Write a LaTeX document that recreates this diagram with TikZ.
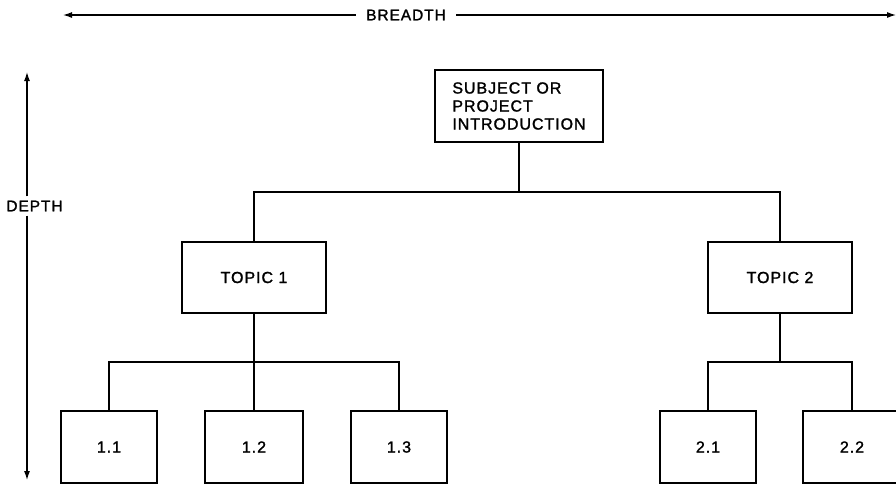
\documentclass[tikz,border=0pt]{standalone}
\usepackage{fontspec}
\setmainfont{Liberation Sans}[LetterSpace=6, FakeBold=1.5]
\usetikzlibrary{arrows.meta}
\begin{document}
\begin{tikzpicture}[x=1pt,y=1pt,
  box/.style={draw, line width=1.8pt, inner sep=0pt, minimum height=72pt, font=\fontsize{16}{18}\selectfont},
  conn/.style={line width=1.8pt},
  dimarrow/.style={line width=1.2pt, -{Latex[length=9pt,width=6pt]}},
  dimlabel/.style={font=\fontsize{15.5}{18}\selectfont}]
\useasboundingbox (0,0) rectangle (896,-485);
% dimension arrows
\node[dimlabel, inner xsep=10pt] (br) at (406,-15) {BREADTH};
\coordinate (bl) at (63,-15);
\coordinate (bright) at (896,-15);
\draw[dimarrow] (br.west) -- (bl);
\draw[dimarrow] (br.east) -- (bright);
\node[dimlabel, inner ysep=4pt, inner xsep=0pt] (dp) at (34.5,-206) {DEPTH};
\coordinate (dtop) at (27,-72);
\coordinate (dbot) at (27,-480);
\draw[dimarrow] (dtop |- dp.north) -- (dtop);
\draw[dimarrow] (dbot |- dp.south) -- (dbot);
% boxes
\node[box, minimum width=168pt, align=left] (top) at (519,-106) {SUBJECT OR\\PROJECT\\INTRODUCTION};
\node[box, minimum width=144pt, minimum height=71pt] (t1) at (254,-277.5) {TOPIC 1};
\node[box, minimum width=144pt, minimum height=71pt] (t2) at (780,-277.5) {TOPIC 2};
\node[box, minimum width=96pt] (c11) at (109,-447) {1.1};
\node[box, minimum width=98pt] (c12) at (254,-447) {1.2};
\node[box, minimum width=96pt] (c13) at (399,-447) {1.3};
\node[box, minimum width=96pt] (c21) at (708,-447) {2.1};
\node[box, minimum width=98pt] (c22) at (852,-447) {2.2};
% connectors
\coordinate (j0) at (519,-192);
\coordinate (j1) at (254,-362);
\coordinate (j2) at (780,-362);
\draw[conn] (top.south) -- (j0);
\draw[conn] (t1.north) |- (j0) -| (t2.north);
\draw[conn] (t1.south) -- (c12.north);
\draw[conn] (c11.north) |- (j1) -| (c13.north);
\draw[conn] (t2.south) -- (j2);
\draw[conn] (c21.north) |- (j2) -| (c22.north);
\end{tikzpicture}
\end{document}
